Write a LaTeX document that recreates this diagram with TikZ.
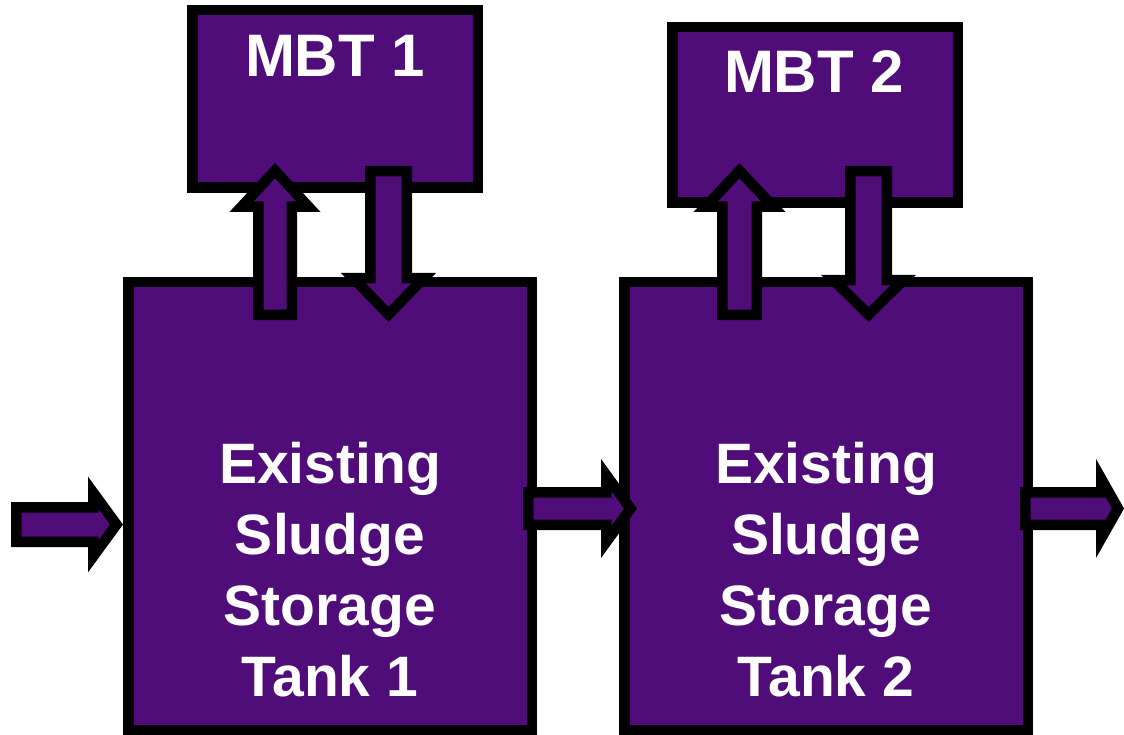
\documentclass[tikz,border=0pt]{standalone}
\usepackage{fontspec}
\setmainfont{Liberation Sans}
\definecolor{tankpurple}{RGB}{80,13,122}
\begin{document}
\begin{tikzpicture}[x=1pt,y=-1pt,
  blk/.style={draw=black,fill=tankpurple,line width=10.5pt,line join=miter,miter limit=10},
  box/.style={blk,rectangle,inner sep=0pt},
  tanklbl/.style={text=white,font=\bfseries\fontsize{57}{71}\selectfont,align=center,inner sep=0pt},
  mbtlbl/.style={text=white,font=\bfseries\fontsize{60}{72}\selectfont,inner sep=0pt,anchor=base}
]
\useasboundingbox (0,0) rectangle (1124,735);

% tanks
\node[box,minimum width=403.5pt,minimum height=447.5pt] (tank1) at (330,506) {};
\node[box,minimum width=403.5pt,minimum height=447.5pt] (tank2) at (826,506) {};
% MBT boxes
\node[box,minimum width=285.5pt,minimum height=177.5pt] (mbt1) at (335,99) {};
\node[box,minimum width=285.5pt,minimum height=175.5pt] (mbt2) at (815,115) {};

% labels
\node[mbtlbl] (mbt1t) at (335,77) {MBT 1};
\node[mbtlbl] (mbt2t) at (814,93) {MBT 2};
\node[tanklbl] (tank1t) at (330,569.5) {Existing\\Sludge\\Storage\\Tank 1};
\node[tanklbl] (tank2t) at (826,569.5) {Existing\\Sludge\\Storage\\Tank 2};

% block arrows: MBT 1
\draw[blk] (258.25,314.75) -- (258.25,206.75) -- (241.5,206.75) -- (275,170.7)
  -- (308.5,206.75) -- (291.75,206.75) -- (291.75,314.75) -- cycle;
\draw[blk] (370.25,171.25) -- (370.25,278.25) -- (353.4,278.25) -- (388.5,314.45)
  -- (423.6,278.25) -- (406.75,278.25) -- (406.75,171.25) -- cycle;
% block arrows: MBT 2
\draw[blk] (722.25,314.75) -- (722.25,206.75) -- (705.6,206.75) -- (739.5,170.7)
  -- (773.4,206.75) -- (756.75,206.75) -- (756.75,314.75) -- cycle;
\draw[blk] (850.25,171.25) -- (850.25,280.25) -- (833.8,280.25) -- (868.5,314.6)
  -- (903.2,280.25) -- (886.75,280.25) -- (886.75,171.25) -- cycle;
% horizontal block arrows
\draw[blk] (16.25,507.25) -- (93.25,507.25) -- (93.25,492.7) -- (116.5,524.5)
  -- (93.25,556.3) -- (93.25,541.75) -- (16.25,541.75) -- cycle;
\draw[blk] (528.25,492.25) -- (606.25,492.25) -- (606.25,475.1) -- (630.5,508.5)
  -- (606.25,541.9) -- (606.25,524.75) -- (528.25,524.75) -- cycle;
\draw[blk] (1025.25,492.25) -- (1101.25,492.25) -- (1101.25,478.9) -- (1118,508.5)
  -- (1101.25,538.1) -- (1101.25,524.75) -- (1025.25,524.75) -- cycle;
\end{tikzpicture}
\end{document}
